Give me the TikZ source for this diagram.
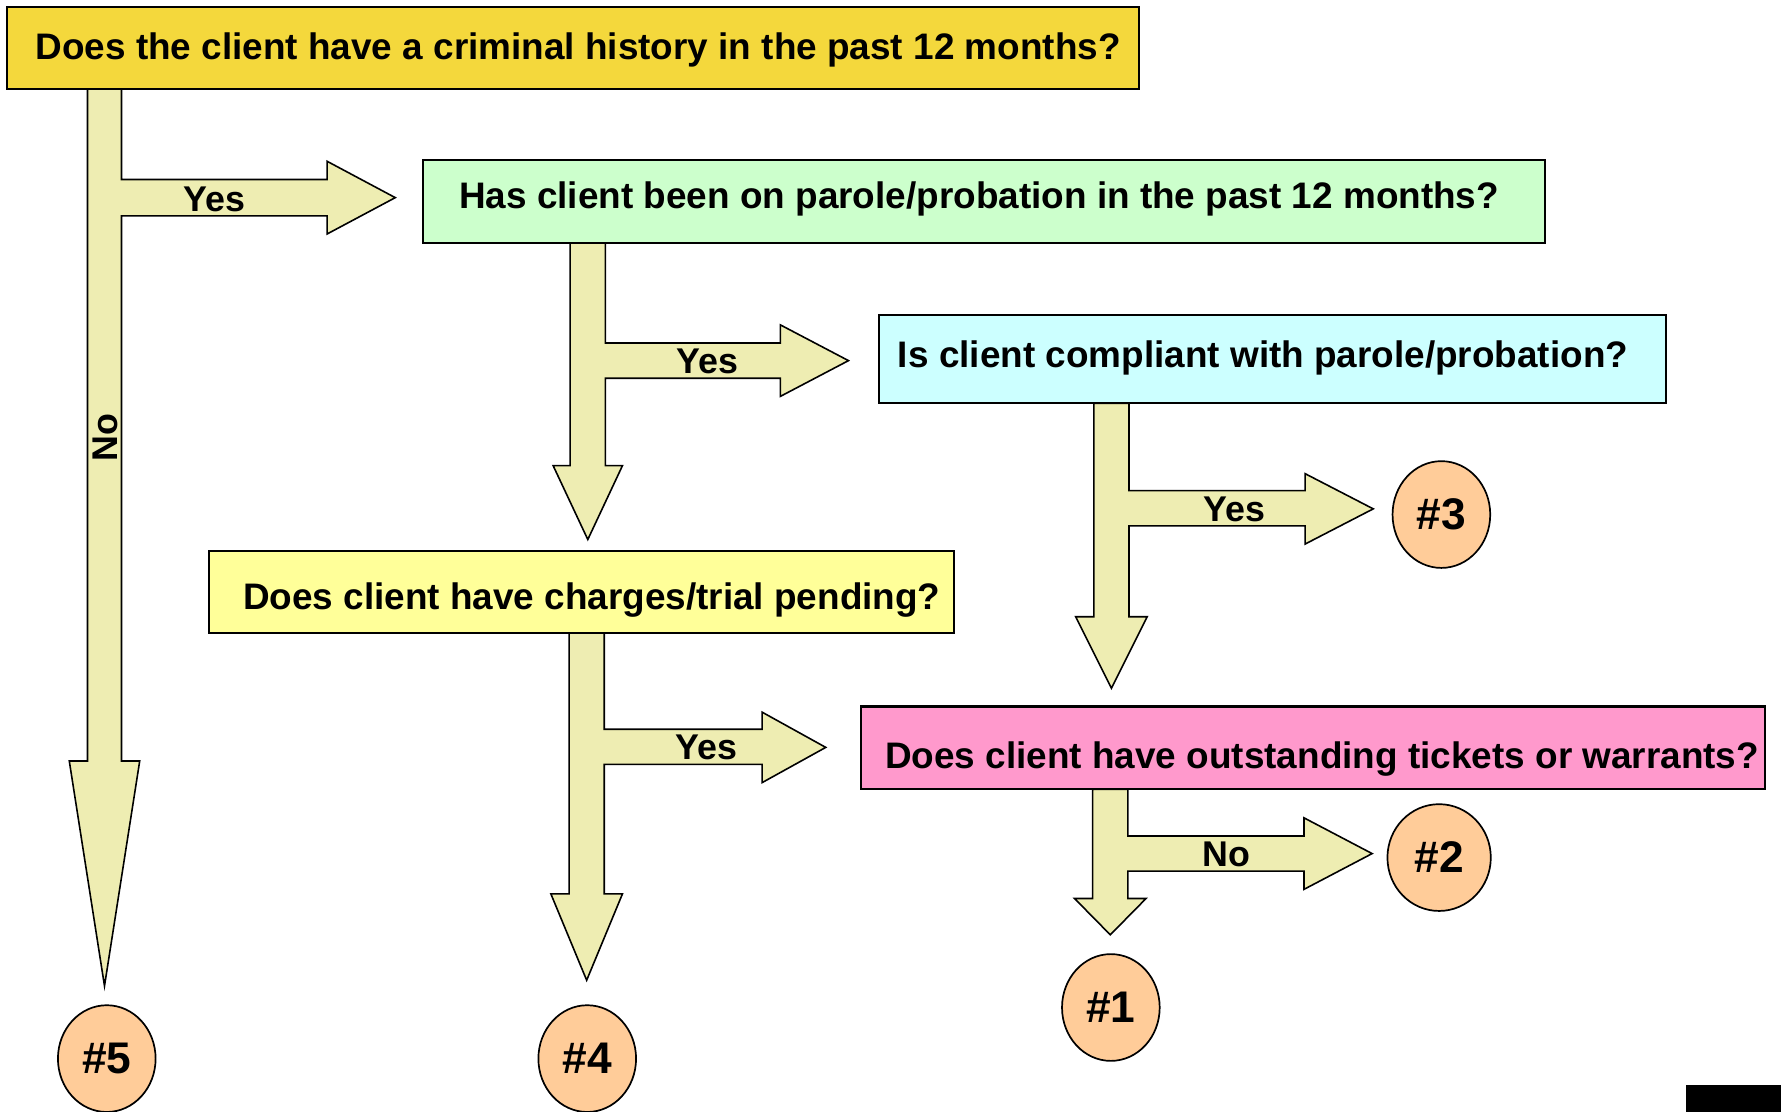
\documentclass[tikz,border=0pt]{standalone}
\usepackage{fontspec}
\setmainfont{Liberation Sans}
\usetikzlibrary{shapes.geometric}
\definecolor{gold}{HTML}{F4D83C}
\definecolor{mint}{HTML}{CCFFCC}
\definecolor{skyc}{HTML}{CCFFFF}
\definecolor{lemon}{HTML}{FFFF99}
\definecolor{pinkq}{HTML}{FF99CC}
\definecolor{arrowfill}{HTML}{EEEDB2}
\definecolor{peach}{HTML}{FFCC99}
\begin{document}
\begin{tikzpicture}[x=1pt,y=-1pt,
  qbox/.style={draw=black, line width=1.8pt, rectangle, inner sep=0pt},
  qtext/.style={anchor=base, font=\bfseries\fontsize{32.5}{39}\selectfont, inner sep=0pt},
  lbl/.style={anchor=base, font=\bfseries\fontsize{31.5}{38}\selectfont, inner sep=0pt},
  blk/.style={draw=black, line width=1.4pt, fill=arrowfill, line join=miter},
  endpt/.style={ellipse, draw=black, line width=1.5pt, fill=peach, minimum width=86pt, minimum height=94pt, inner sep=0pt, text height=27pt, text depth=0pt, font=\bfseries\fontsize{39}{46}\selectfont}
]
\useasboundingbox (0,0) rectangle (1568,979);
\clip (0,0) rectangle (1568,979);

% block arrows
\draw[blk] (77,78) -- (107,78) -- (107,158) -- (288,158) -- (288,142) -- (348,174) -- (288,206) -- (288,190) -- (107,190) -- (107,670) -- (123,670) -- (92,868) -- (61,670) -- (77,670) -- cycle;
\draw[blk] (502,214) -- (533,214) -- (533,302) -- (687,302) -- (687,286) -- (747,317.5) -- (687,349) -- (687,333) -- (533,333) -- (533,410) -- (548,410) -- (517.5,475) -- (487,410) -- (502,410) -- cycle;
\draw[blk] (963,355) -- (994,355) -- (994,432) -- (1149,432) -- (1149,417) -- (1209,448) -- (1149,479) -- (1149,463) -- (994,463) -- (994,543) -- (1010,543) -- (978.5,606) -- (947,543) -- (963,543) -- cycle;
\draw[blk] (501,557) -- (532,557) -- (532,642) -- (671,642) -- (671,627) -- (727,658) -- (671,689) -- (671,673) -- (532,673) -- (532,787) -- (548,787) -- (516.5,863) -- (485,787) -- (501,787) -- cycle;
\draw[blk] (962,695) -- (993,695) -- (993,736) -- (1148,736) -- (1148,720) -- (1208,751.5) -- (1148,783) -- (1148,767) -- (993,767) -- (993,791) -- (1009,791) -- (977.5,823) -- (946,791) -- (962,791) -- cycle;

% question boxes
\node[qbox, fill=gold,  minimum width=997pt, minimum height=72pt] (q1) at (504.5,42) {};
\node[qbox, fill=mint,  minimum width=988pt, minimum height=73pt] (q2) at (866,177.5) {};
\node[qbox, fill=skyc,  minimum width=693pt, minimum height=78pt] (q3) at (1120.5,316) {};
\node[qbox, fill=lemon, minimum width=656pt, minimum height=72pt] (q4) at (512,521) {};
\node[qbox, fill=pinkq, minimum width=796pt, minimum height=73pt] (q5) at (1156,658.5) {};

\node[qtext] (t1) at (509,52.5) {Does the client have a criminal history in the past 12 months?};
\node[qtext] (t2) at (862,183.5) {Has client been on parole/probation in the past 12 months?};
\node[qtext] (t3) at (1112,323.5) {Is client compliant with parole/probation?};
\node[qtext] (t4) at (521,536.5) {Does client have charges/trial pending?};
\node[qtext] (t5) at (1164,676.5) {Does client have outstanding tickets or warrants?};

% arrow labels
\node[lbl] (y1) at (189,186) {Yes};
\node[lbl] (y2) at (623,329) {Yes};
\node[lbl] (y3) at (1087,459) {Yes};
\node[lbl] (y4) at (622,669) {Yes};
\node[lbl] (n5) at (1080,763) {No};
\node[font=\bfseries\fontsize{31.5}{38}\selectfont, inner sep=0pt, rotate=90, anchor=center] (n1) at (92.5,385) {No};

% outcomes
\node[endpt] (o3) at (1269,453) {\#3};
\node[endpt, minimum width=91pt] (o2) at (1267,755) {\#2};
\node[endpt] (o1) at (978,887) {\#1};
\node[endpt] (o5) at (94,932) {\#5};
\node[endpt] (o4) at (517,932) {\#4};

% black mark bottom right
\fill[black] (1484,955) rectangle (1568,979);
\end{tikzpicture}
\end{document}
